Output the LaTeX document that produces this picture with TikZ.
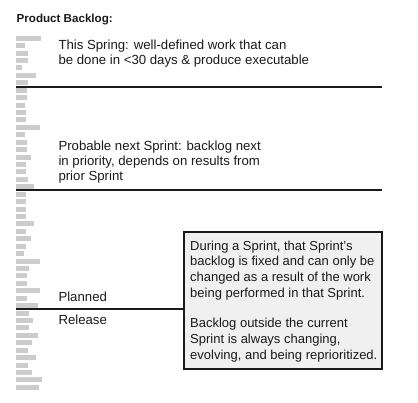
\documentclass[tikz,border=0pt]{standalone}
\usepackage{fontspec}
\setmainfont{Liberation Sans}
\definecolor{barcol}{HTML}{CCCCCC}
\definecolor{notefill}{HTML}{F0F0F0}
\definecolor{ink}{HTML}{1A1A1A}
\begin{document}
\begin{tikzpicture}[x=1pt,y=-1pt,
  bar/.style={fill=barcol, draw=none},
  divider/.style={draw=ink, line width=1.8pt},
  body/.style={anchor=base west, inner sep=0pt, text=ink},
  notebox/.style={draw=ink, line width=1.3pt, fill=notefill, anchor=north west,
    inner sep=0pt, outer sep=0pt, minimum width=198pt, minimum height=137pt}]
\useasboundingbox (0,0) rectangle (418,402);

% title
\node[body, font=\fontsize{11.6}{14}\selectfont\bfseries] (title) at (16.5,22) {Product Backlog:};

% backlog bars
\foreach \w [count=\i from 0] in {25,9,12,12,6,20,12,11,11,9,10,10,24,9,11,11,15,10,10,12,18,10,10,10,10,18,10,15,10,8,24,13,11,11,24,11,22,13,17,13,22,16,12,20,12,16,26,23}
  \fill[bar] (16,{35.7+\i*7.43}) rectangle ++(\w,5);

% dividers
\coordinate (d1a) at (16,87);
\coordinate (d1b) at (382,87);
\coordinate (d2a) at (16,190);
\coordinate (d2b) at (382,190);
\draw[divider] (d1a) -- (d1b);
\draw[divider] (d2a) -- (d2b);

% note box
\node[notebox] (note) at (184,232) {};
\coordinate (d3a) at (16,309.3);
\draw[divider] (d3a) -- (note.west |- d3a);

% texts
\node[body, font=\fontsize{13.2}{15}\selectfont] (spring) at (58.3,49)
  {\parbox[t]{320pt}{This Spring: well-defined work that can\\be done in <30 days \& produce executable}};
\node[body, font=\fontsize{13.2}{15.35}\selectfont] (next) at (58.3,150)
  {\parbox[t]{320pt}{Probable next Sprint: backlog next\\in priority, depends on results from\\prior Sprint}};
\node[body, font=\fontsize{13.2}{15}\selectfont] (planned) at (58.3,301.7) {Planned};
\node[body, font=\fontsize{13.2}{15}\selectfont] (release) at (58.3,324) {Release};
\node[body, font=\fontsize{13}{15.9}\selectfont] (notetext) at (190,250)
  {\parbox[t]{190pt}{During a Sprint, that Sprint's\\backlog is fixed and can only be\\changed as a result of the work\\being performed in that Sprint.\\[14.1pt]Backlog outside the current\\Sprint is always changing,\\evolving, and being reprioritized.}};
\end{tikzpicture}
\end{document}
